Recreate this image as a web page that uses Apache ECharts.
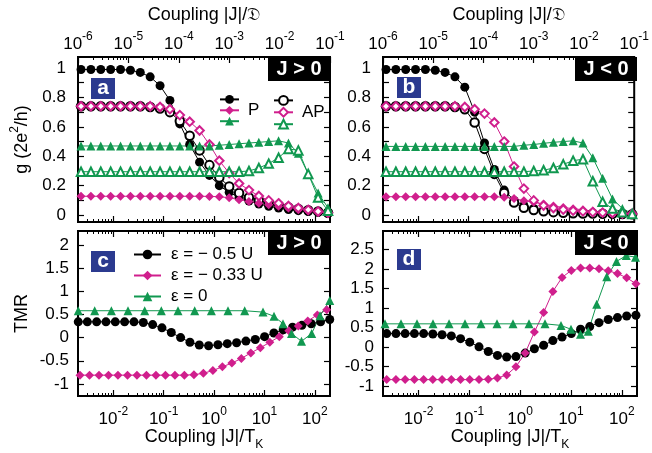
<!DOCTYPE html>
<html>
<head>
    <meta charset="utf-8">
    <title>Conductance and TMR vs coupling</title>
    <script src="https://cdn.jsdelivr.net/npm/echarts@6.0.0/dist/echarts.min.js"></script>
    <style>
        body { margin: 0; background: #fff; }
        #chart1 { width: 652px; height: 453px; }
    </style>
</head>
<body>
<div id="chart1"></div>
<script type="text/javascript">
    // panels a, b: log10 of |J|/D for every point
    var logJD = [-5.94, -5.744, -5.548, -5.352, -5.156, -4.96, -4.764, -4.568, -4.372, -4.176, -3.98, -3.784, -3.588,
        -3.392, -3.196, -3.0, -2.804, -2.608, -2.412, -2.216, -2.02, -1.824, -1.628, -1.432, -1.236, -1.04];

    // panel a (J > 0), g in units of 2e^2/h
    var aBlackP = [0.99, 0.99, 0.99, 0.99, 0.99, 0.985, 0.97, 0.94, 0.88, 0.78, 0.62, 0.48, 0.36, 0.27, 0.20, 0.155, 0.12,
        0.095, 0.075, 0.06, 0.048, 0.038, 0.03, 0.024, 0.018, 0.012];
    var aBlackAP = [0.74, 0.74, 0.74, 0.74, 0.74, 0.74, 0.74, 0.735, 0.725, 0.70, 0.64, 0.54, 0.44, 0.34, 0.255, 0.195, 0.15,
        0.12, 0.10, 0.08, 0.065, 0.052, 0.042, 0.033, 0.025, 0.016];
    var aPinkP = [0.128, 0.128, 0.128, 0.128, 0.128, 0.128, 0.128, 0.128, 0.128, 0.128, 0.128, 0.128, 0.128, 0.127, 0.125,
        0.118, 0.105, 0.093, 0.08, 0.07, 0.06, 0.048, 0.037, 0.027, 0.018, 0.012];
    var aPinkAP = [0.74, 0.74, 0.74, 0.74, 0.74, 0.74, 0.74, 0.74, 0.735, 0.72, 0.68, 0.635, 0.575, 0.48, 0.37, 0.285, 0.215,
        0.17, 0.13, 0.10, 0.08, 0.062, 0.048, 0.036, 0.025, 0.016];
    var aGreenP = [0.47, 0.47, 0.47, 0.47, 0.47, 0.47, 0.47, 0.47, 0.47, 0.47, 0.47, 0.47, 0.47, 0.47, 0.475, 0.48, 0.485,
        0.49, 0.495, 0.50, 0.505, 0.49, 0.42, 0.28, 0.15, 0.05];
    var aGreenAP = [0.295, 0.295, 0.295, 0.295, 0.295, 0.295, 0.295, 0.295, 0.295, 0.295, 0.295, 0.295, 0.295, 0.295, 0.295,
        0.295, 0.295, 0.30, 0.32, 0.35, 0.39, 0.45, 0.44, 0.28, 0.12, 0.03];

    // panel b (J < 0)
    var bBlackP = [0.99, 0.99, 0.99, 0.99, 0.99, 0.985, 0.97, 0.94, 0.87, 0.70, 0.49, 0.31, 0.17, 0.10, 0.065, 0.045, 0.032,
        0.025, 0.02, 0.017, 0.014, 0.012, 0.01, 0.008, 0.007, 0.006];
    var bBlackAP = [0.74, 0.74, 0.74, 0.74, 0.74, 0.74, 0.74, 0.735, 0.72, 0.63, 0.45, 0.28, 0.15, 0.085, 0.05, 0.035, 0.026,
        0.02, 0.016, 0.013, 0.011, 0.01, 0.009, 0.008, 0.007, 0.006];
    var bPinkP = [0.125, 0.125, 0.125, 0.125, 0.125, 0.125, 0.125, 0.125, 0.125, 0.125, 0.125, 0.125, 0.122, 0.112, 0.098,
        0.087, 0.075, 0.062, 0.052, 0.043, 0.036, 0.027, 0.019, 0.012, 0.006, 0.002];
    var bPinkAP = [0.74, 0.74, 0.74, 0.74, 0.74, 0.74, 0.74, 0.74, 0.735, 0.72, 0.69, 0.63, 0.50, 0.33, 0.18, 0.10, 0.065,
        0.048, 0.037, 0.03, 0.025, 0.02, 0.017, 0.014, 0.011, 0.009];
    var bGreenP = [0.467, 0.467, 0.467, 0.467, 0.467, 0.467, 0.467, 0.467, 0.467, 0.467, 0.467, 0.467, 0.467, 0.467, 0.475,
        0.48, 0.488, 0.495, 0.50, 0.505, 0.49, 0.39, 0.25, 0.11, 0.045, 0.01];
    var bGreenAP = [0.295, 0.295, 0.295, 0.295, 0.295, 0.295, 0.295, 0.295, 0.295, 0.295, 0.295, 0.295, 0.295, 0.295, 0.295,
        0.30, 0.305, 0.32, 0.345, 0.37, 0.38, 0.23, 0.09, 0.045, 0.02, 0.008];

    // panel c (J > 0), log10 of |J|/T_K and TMR
    var logTKcBlack = [-2.695, -2.515, -2.33, -2.145, -1.96, -1.775, -1.589, -1.404, -1.219, -1.034, -0.849, -0.664, -0.479,
        -0.294, -0.109, 0.077, 0.262, 0.447, 0.632, 0.817, 1.002, 1.187, 1.372, 1.557, 1.742, 1.928, 2.113, 2.295];
    var cBlack = [0.34, 0.34, 0.34, 0.34, 0.34, 0.34, 0.34, 0.325, 0.28, 0.21, 0.11, 0.0, -0.10, -0.16, -0.175, -0.155, -0.13,
        -0.11, -0.075, -0.04, 0.02, 0.10, 0.17, 0.225, 0.265, 0.30, 0.34, 0.39];
    var logTKcPink = [-2.66, -2.472, -2.283, -2.095, -1.907, -1.718, -1.53, -1.342, -1.154, -0.965, -0.777, -0.589, -0.4,
        -0.212, -0.024, 0.165, 0.353, 0.541, 0.729, 0.918, 1.106, 1.294, 1.483, 1.671, 1.859, 2.048, 2.236];
    var cPink = [-0.81, -0.81, -0.81, -0.81, -0.81, -0.81, -0.81, -0.81, -0.81, -0.81, -0.81, -0.81, -0.80, -0.77, -0.71,
        -0.63, -0.55, -0.45, -0.33, -0.22, -0.10, 0.02, 0.15, 0.25, 0.36, 0.49, 0.60];
    var logTKcGreen = [-2.695, -2.369, -2.038, -1.708, -1.377, -1.047, -0.716, -0.385, -0.054, 0.276, 0.607, 0.971, 1.189,
        1.367, 1.536, 1.735, 1.937, 2.102, 2.295];
    var cGreen = [0.58, 0.58, 0.58, 0.58, 0.58, 0.58, 0.58, 0.58, 0.58, 0.58, 0.58, 0.55, 0.46, 0.30, 0.09, -0.08, 0.09,
        0.47, 0.80];

    // panel d (J < 0)
    var logTKd = [-2.627, -2.445, -2.264, -2.082, -1.9, -1.719, -1.537, -1.355, -1.173, -0.992, -0.81, -0.628, -0.447,
        -0.265, -0.083, 0.099, 0.28, 0.462, 0.644, 0.825, 1.007, 1.189, 1.37, 1.552, 1.734, 1.916, 2.097, 2.279];
    var dBlack = [0.34, 0.34, 0.34, 0.34, 0.34, 0.33, 0.31, 0.28, 0.21, 0.12, 0.0, -0.12, -0.22, -0.26, -0.25, -0.16, -0.05,
        0.04, 0.16, 0.25, 0.34, 0.45, 0.52, 0.62, 0.70, 0.75, 0.79, 0.81];
    var dPink = [-0.84, -0.84, -0.84, -0.84, -0.84, -0.84, -0.84, -0.84, -0.84, -0.84, -0.84, -0.83, -0.80, -0.72, -0.51,
        -0.16, 0.38, 0.88, 1.42, 1.78, 1.96, 2.02, 2.02, 2.00, 1.95, 1.88, 1.77, 1.62];
    var logTKdGreen = [-2.661, -2.346, -2.031, -1.716, -1.4, -1.086, -0.771, -0.456, -0.141, 0.174, 0.489, 0.804, 1.001,
        1.188, 1.341, 1.507, 1.704, 1.896, 2.089, 2.27];
    var dGreen = [0.59, 0.59, 0.59, 0.59, 0.59, 0.59, 0.59, 0.59, 0.59, 0.59, 0.59, 0.55, 0.45, 0.32, 0.40, 1.09, 1.80,
        2.19, 2.34, 2.30];

    // ticks and labels
    var jdTicks = [1e-6, 1e-5, 1e-4, 1e-3, 1e-2, 1e-1];
    var tkTicks = [0.01, 0.1, 1, 10, 100];
    var gTicks = [0, 0.1, 0.2, 0.3, 0.4, 0.5, 0.6, 0.7, 0.8, 0.9, 1];
    var gLabels = [0, 0.2, 0.4, 0.6, 0.8, 1];
    var tmrTicksC = [-1, -0.5, 0, 0.5, 1, 1.5, 2];
    var tmrTicksD = [-1, -0.5, 0, 0.5, 1, 1.5, 2, 2.5];

    var FONT = '"Liberation Sans", Arial, Helvetica, sans-serif';
    var PINK = '#d01f8d';
    var GREEN = '#119850';
    var NAVY = '#2b3a8f';

    var JD_MIN = 0.99999e-6, JD_MAX = 0.100001;
    var TK_MIN = Math.pow(10, -2.7), TK_MAX = Math.pow(10, 2.3);

    var grids = [
        {left: 78, top: 57, width: 252, height: 165},
        {left: 383, top: 57, width: 254, height: 165},
        {left: 78, top: 231, width: 252, height: 165},
        {left: 383, top: 231, width: 254, height: 165}
    ];

    var supRich = {
        b: {fontSize: 17, lineHeight: 26, fontFamily: FONT, color: '#000'},
        sup: {fontSize: 12, lineHeight: 14, verticalAlign: 'top', fontFamily: FONT, color: '#000'}
    };
    var titleRich = {
        t: {fontSize: 18, lineHeight: 26, fontFamily: FONT, color: '#000'},
        sup: {fontSize: 12, lineHeight: 14, verticalAlign: 'top', fontFamily: FONT, color: '#000'},
        sub: {fontSize: 12, lineHeight: 12, verticalAlign: 'bottom', fontFamily: FONT, color: '#000'}
    };

    function powLabel(v) {
        return '{b|10}{sup|' + Math.round(Math.log10(v)) + '}';
    }

    function minorValues(lo, hi) {
        var out = [];
        for (var n = -7; n <= 3; n++) {
            for (var k = 2; k <= 9; k++) {
                var v = k * Math.pow(10, n);
                if (v > lo && v < hi) out.push(v);
            }
        }
        return out;
    }

    function logAxis(grid, pos, lo, hi, labelled, name) {
        var major = hi < 1 ? jdTicks : tkTicks;
        return {
            type: 'log', logBase: 10, gridIndex: grid, position: pos, min: lo, max: hi,
            axisLine: {show: false, onZero: false}, splitLine: {show: false},
            axisTick: {show: true, inside: true, length: 6, customValues: major,
                lineStyle: {color: '#000', width: 1.2}},
            axisLabel: {show: labelled, customValues: major, margin: pos === 'top' ? 0 : 10,
                formatter: powLabel, rich: supRich},
            name: name || '', nameLocation: 'middle', nameGap: pos === 'top' ? 29 : 24,
            nameTextStyle: {rich: titleRich}
        };
    }

    function minorAxis(grid, pos, lo, hi) {
        return {
            type: 'log', logBase: 10, gridIndex: grid, position: pos, min: lo, max: hi,
            axisLine: {show: false, onZero: false}, splitLine: {show: false}, axisLabel: {show: false},
            axisTick: {show: true, inside: true, length: 3, customValues: minorValues(lo, hi),
                lineStyle: {color: '#000', width: 1}}
        };
    }

    function yPair(grid, lo, hi, ticks, labels, margin, name) {
        var tick = {show: true, inside: true, length: 6, customValues: ticks, lineStyle: {color: '#000', width: 1.2}};
        return [{
            type: 'value', gridIndex: grid, position: 'left', min: lo, max: hi,
            axisLine: {show: false, onZero: false}, splitLine: {show: false}, axisTick: tick,
            axisLabel: {customValues: labels, margin: margin, fontSize: 17, fontFamily: FONT, color: '#000'},
            name: name || '', nameLocation: 'middle', nameRotate: 90, nameGap: 43,
            nameTextStyle: {rich: titleRich}
        }, {
            type: 'value', gridIndex: grid, position: 'right', min: lo, max: hi,
            axisLine: {show: false, onZero: false}, splitLine: {show: false}, axisTick: tick, axisLabel: {show: false}
        }];
    }

    var xAxes = [], yAxes = [];
    var topJD = '{t|Coupling |J|/\uD835\uDD07}';
    var botTK = '{t|Coupling |J|/T}{sub|K}';
    [0, 1].forEach(function (g) {
        xAxes.push(logAxis(g, 'bottom', TK_MIN, TK_MAX, false));
        xAxes.push(minorAxis(g, 'bottom', TK_MIN, TK_MAX));
        xAxes.push(logAxis(g, 'top', JD_MIN, JD_MAX, true, topJD));
        xAxes.push(minorAxis(g, 'top', JD_MIN, JD_MAX));
    });
    [2, 3].forEach(function (g) {
        xAxes.push(logAxis(g, 'bottom', TK_MIN, TK_MAX, true, botTK));
        xAxes.push(minorAxis(g, 'bottom', TK_MIN, TK_MAX));
        xAxes.push(logAxis(g, 'top', TK_MIN, TK_MAX, false));
        xAxes.push(minorAxis(g, 'top', TK_MIN, TK_MAX));
    });
    yAxes = yAxes.concat(yPair(0, -0.047, 1.075, gTicks, gLabels, 12, '{t|g (2e}{sup|2}{t|/h)}'));
    yAxes = yAxes.concat(yPair(1, -0.047, 1.075, gTicks, gLabels, 12));
    yAxes = yAxes.concat(yPair(2, -1.26, 2.3, tmrTicksC, tmrTicksC, 9, '{t|TMR}'));
    yAxes = yAxes.concat(yPair(3, -1.26, 2.97, tmrTicksD, tmrTicksD, 9));

    function pts(logX, ys) {
        return ys.map(function (y, i) { return [Math.pow(10, logX[i]), y]; });
    }

    function curve(name, panel, logX, ys, color, symbol) {
        var hollow = symbol.indexOf('empty') === 0;
        return {
            name: name, type: 'line',
            xAxisIndex: panel * 4 + (panel < 2 ? 2 : 0), yAxisIndex: panel * 2,
            data: pts(logX, ys),
            symbol: symbol, symbolSize: hollow ? 8.5 : 9, showSymbol: true, showAllSymbol: true,
            lineStyle: {color: color, width: 1},
            itemStyle: {color: color, borderColor: color, borderWidth: hollow ? 1.1 : 0},
            emphasis: {disabled: true}, silent: true
        };
    }

    var E05 = '\u03b5 = \u2212 0.5 U', E033 = '\u03b5 = \u2212 0.33 U', E0 = '\u03b5 = 0';
    var series = [
        curve('a P black', 0, logJD, aBlackP, '#000', 'circle'),
        curve('a AP black', 0, logJD, aBlackAP, '#000', 'emptyCircle'),
        curve('a P pink', 0, logJD, aPinkP, PINK, 'diamond'),
        curve('a AP pink', 0, logJD, aPinkAP, PINK, 'emptyDiamond'),
        curve('a P green', 0, logJD, aGreenP, GREEN, 'triangle'),
        curve('a AP green', 0, logJD, aGreenAP, GREEN, 'emptyTriangle'),

        curve('b P black', 1, logJD, bBlackP, '#000', 'circle'),
        curve('b AP black', 1, logJD, bBlackAP, '#000', 'emptyCircle'),
        curve('b P pink', 1, logJD, bPinkP, PINK, 'diamond'),
        curve('b AP pink', 1, logJD, bPinkAP, PINK, 'emptyDiamond'),
        curve('b P green', 1, logJD, bGreenP, GREEN, 'triangle'),
        curve('b AP green', 1, logJD, bGreenAP, GREEN, 'emptyTriangle'),

        curve(E05, 2, logTKcBlack, cBlack, '#000', 'circle'),
        curve(E033, 2, logTKcPink, cPink, PINK, 'diamond'),
        curve(E0, 2, logTKcGreen, cGreen, GREEN, 'triangle'),

        curve('d black', 3, logTKd, dBlack, '#000', 'circle'),
        curve('d pink', 3, logTKd, dPink, PINK, 'diamond'),
        curve('d green', 3, logTKdGreen, dGreen, GREEN, 'triangle')
    ];

    var legendText = {'a P pink': 'P', 'a AP pink': 'AP'};
    function smallLegend(left, names) {
        return {
            orient: 'vertical', left: left, top: 90, itemWidth: 19, itemHeight: 11, itemGap: -2,
            selectedMode: false, data: names,
            formatter: function (n) { return legendText[n] || ''; },
            textStyle: {fontSize: 17, lineHeight: 11, fontFamily: FONT, color: '#000', padding: [0, 0, 0, 4]}
        };
    }

    var tags = [
        {x: 91, y: 78, t: 'a'}, {x: 397, y: 77, t: 'b'}, {x: 91, y: 251, t: 'c'}, {x: 397, y: 249, t: 'd'}
    ];
    var signs = [
        {x: 268, y: 57, t: 'J > 0'}, {x: 575, y: 57, t: 'J < 0'}, {x: 268, y: 231, t: 'J > 0'}, {x: 575, y: 231, t: 'J < 0'}
    ];
    var graphics = [];
    tags.forEach(function (b) {
        graphics.push({type: 'rect', z: 100, shape: {x: b.x, y: b.y, width: 24, height: 21}, style: {fill: NAVY}});
        graphics.push({type: 'text', z: 101, x: b.x + 12, y: b.y + 10.5, style: {text: b.t, fill: '#fff',
                font: 'bold 21px ' + FONT, align: 'center', verticalAlign: 'middle',
                textAlign: 'center', textVerticalAlign: 'middle'}});
    });
    signs.forEach(function (b) {
        graphics.push({type: 'rect', z: 100, shape: {x: b.x, y: b.y, width: 62, height: 24}, style: {fill: '#000'}});
        graphics.push({type: 'text', z: 101, x: b.x + 31, y: b.y + 12.5, style: {text: b.t, fill: '#fff',
                font: 'bold 20px ' + FONT, align: 'center', verticalAlign: 'middle',
                textAlign: 'center', textVerticalAlign: 'middle'}});
    });

    var myChart = echarts.init(document.getElementById('chart1'), null, {renderer: 'canvas'});
    myChart.setOption({
        animation: false,
        backgroundColor: '#fff',
        grid: grids.map(function (g) {
            return {left: g.left, top: g.top, width: g.width, height: g.height, show: true,
                borderColor: '#000', borderWidth: 2, backgroundColor: 'transparent'};
        }),
        xAxis: xAxes,
        yAxis: yAxes,
        legend: [
            smallLegend(214, ['a P black', 'a P pink', 'a P green']),
            smallLegend(268, ['a AP black', 'a AP pink', 'a AP green']),
            {
                orient: 'vertical', left: 128, top: 241, itemWidth: 27, itemHeight: 12, itemGap: 4,
                selectedMode: false, data: [E05, E033, E0],
                textStyle: {fontSize: 17, lineHeight: 12, fontFamily: FONT, color: '#000', padding: [0, 0, 0, 5]}
            }
        ],
        graphic: graphics,
        series: series
    });
</script>
</body>
</html>
